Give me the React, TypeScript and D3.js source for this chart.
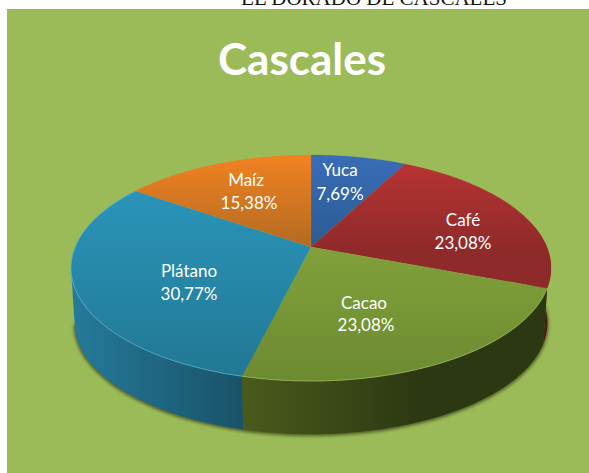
import React from "react";
import * as d3 from "d3";

const categories = ["Yuca", "Café", "Cacao", "Plátano", "Maíz"];
const values = [7.69, 23.08, 23.08, 30.77, 15.38];
const labels = ["7,69%", "23,08%", "23,08%", "30,77%", "15,38%"];
const topFrom = ["#3a6db8", "#bb3434", "#8fb042", "#2c9ac0", "#f28222"];
const topTo = ["#2a5a90", "#8f2a2a", "#6c8a30", "#217793", "#b06a20"];
const sideFrom = ["#2a5a90", "#7a2020", "#4a5a1b", "#257a9a", "#b06a20"];
const sideTo = ["#1d3f66", "#4a1414", "#2c3812", "#195268", "#8a5018"];
const nameX = [340, 463, 364, 189, 246];
const nameY = [176, 226, 309, 277, 186];
const valueX = [340, 463, 366, 189, 249];
const valueY = [200, 249, 331, 300, 209];

const W = 589, H = 473;
const cx = 311, cy = 268, rxOuter = 240, ry = 113, apexY = 247, depth = 55;
const c = apexY - cy;
const p = -c / ry;
const a = rxOuter * Math.sqrt(1 - p * p);

// perspective projection of a unit-disc point onto the top face of the pie
function proj(theta: number, r = 1, dy = 0, s = 1): [number, number] {
  const u = r * Math.sin(theta), v = -r * Math.cos(theta);
  const d = 1 - p * v;
  return [cx + (s * a * u) / d, cy + dy + (s * (ry * v + c)) / d];
}

const arcs = d3.pie<number>().sort(null)(values);
const line = d3.line();
const sample = (t0: number, t1: number, dy = 0, s = 1) =>
  d3.range(0, 61).map((i) => proj(t0 + ((t1 - t0) * i) / 60, 1, dy, s));

const sliceD = (t0: number, t1: number) =>
  line([proj(0, 0), ...sample(t0, t1)]) + "Z";

// visible wall: front part of the rim only
const wallStart = Math.PI / 2 - 0.19;
const wallEnd = (3 * Math.PI) / 2 + 0.19 - 0.38;
function wallD(t0: number, t1: number) {
  const lo = Math.max(t0, wallStart);
  const hi = Math.min(t1, wallEnd);
  if (hi <= lo) return null;
  return line([...sample(lo, hi), ...sample(lo, hi, depth, 0.985).reverse()]) + "Z";
}
const shadowD = line(sample(wallStart, wallEnd, depth + 1.5, 0.99)) + "Z";

export default function App() {
  return (
    <svg width={W} height={H} style={{ position: "fixed", left: 0, top: 0, display: "block" }}>
      <defs>
        {categories.map((_, i) => (
          <linearGradient key={i} id={`top${i}`} gradientUnits="userSpaceOnUse" x1="0" y1="155" x2="0" y2={i === 2 || i === 3 ? 381 : 250}>
            <stop offset="0" stopColor={topFrom[i]} />
            <stop offset="1" stopColor={topTo[i]} />
          </linearGradient>
        ))}
        {categories.map((_, i) => (
          <linearGradient key={i} id={`side${i}`} gradientUnits="userSpaceOnUse" x1={i === 3 ? 71 : i === 2 ? 245 : 520} y1="0" x2={i === 3 ? 245 : i === 2 ? 420 : 551} y2="0">
            <stop offset="0" stopColor={sideFrom[i]} />
            <stop offset="1" stopColor={sideTo[i]} />
          </linearGradient>
        ))}
        <filter id="blur" x="-10%" y="-10%" width="120%" height="120%">
          <feGaussianBlur stdDeviation="1.6" />
        </filter>
      </defs>
      <rect width={W} height={H} fill="#ffffff" />
      <text x={374} y={5} textAnchor="middle" fontFamily="'Liberation Serif', serif" fontSize={21} fill="#111">
        EL DORADO DE CASCALES
      </text>
      <rect x={7} y={9} width={W - 7} height={H - 9} fill="#9bbb59" />
      <text x={302} y={75} textAnchor="middle" fontFamily="Lato, sans-serif" fontWeight={700} fontSize={44} fill="#fff">
        Cascales
      </text>

      <path d={shadowD} fill="#3f4a18" opacity={0.75} filter="url(#blur)" />
      {arcs.map((d, i) => {
        const w = wallD(d.startAngle, d.endAngle);
        return w ? <path key={i} d={w} fill={`url(#side${i})`} /> : null;
      })}
      {arcs.map((d, i) => (
        <path key={i} d={sliceD(d.startAngle, d.endAngle)} fill={`url(#top${i})`} stroke={topFrom[i]} strokeOpacity={0.35} strokeWidth={0.6} />
      ))}
      {arcs.map((d, i) =>
        i === 2 || i === 3 ? (
          <path key={i} d={line(sample(d.startAngle, d.endAngle)) as string} fill="none" stroke={i === 3 ? "#5fb5d0" : "#a5c060"} strokeOpacity={0.7} strokeWidth={1} />
        ) : null
      )}
      {categories.map((name, i) => (
        <text key={i} textAnchor="middle" fontFamily="Lato, sans-serif" fontSize={17} fill="#fff">
          <tspan x={nameX[i]} y={nameY[i]}>{name}</tspan>
          <tspan x={valueX[i]} y={valueY[i]}>{labels[i]}</tspan>
        </text>
      ))}
    </svg>
  );
}
